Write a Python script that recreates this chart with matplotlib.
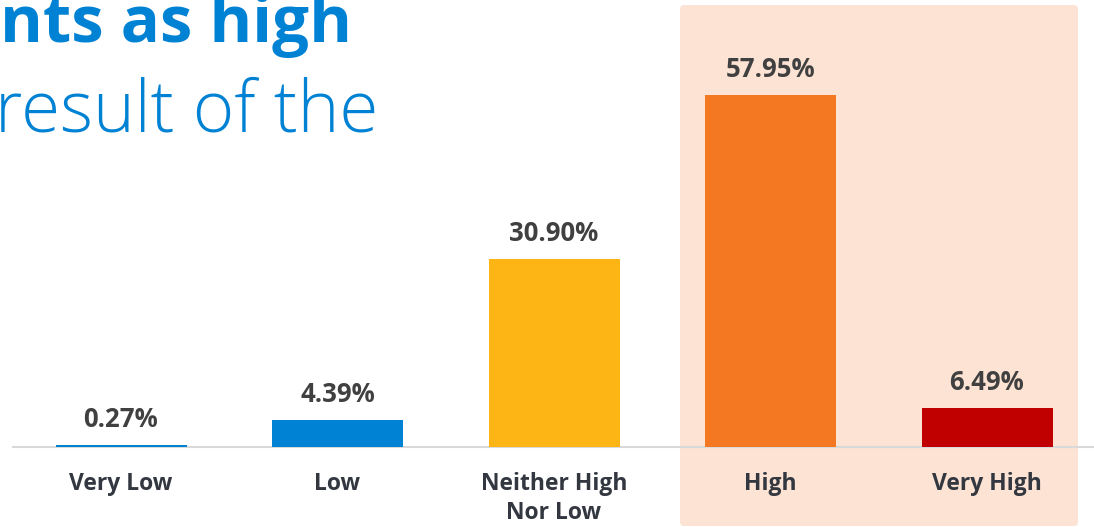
import matplotlib
matplotlib.use("Agg")
import matplotlib.pyplot as plt
from matplotlib.patches import FancyBboxPatch

# survey answers and their shares
categorias = ["Very Low", "Low", "Neither High\nNor Low", "High", "Very High"]
porcentajes = [0.27, 4.39, 30.90, 57.95, 6.49]
colores = ["#0082D4", "#0082D4", "#FDB515", "#F47721", "#C00000"]

W, H = 1094, 527
fig = plt.figure(figsize=(W / 100, H / 100), dpi=100)

# pixel geometry of the plot area
paso = 216.5          # px between bar centres
x0 = 121              # px centre of first bar
base = 447            # px from top of the zero line
escala = 6.075        # px per percentage point

ax = fig.add_axes([0, 0, 1, 1])
ax.set_xlim(-x0 / paso, (W - x0) / paso)
ax.set_ylim(-(H - base) / escala, base / escala)
ax.axis("off")

# highlighted zone behind High / Very High
rx0 = (680 - x0) / paso
rx1 = (1078 - x0) / paso
ry0 = -(526 - base) / escala
ry1 = (base - 5) / escala
zona = FancyBboxPatch((rx0, ry0), rx1 - rx0, ry1 - ry0,
                      boxstyle="round,pad=0,rounding_size=0.02",
                      mutation_aspect=(1 / escala) / (1 / paso),
                      facecolor="#FCE3D3", edgecolor="none", zorder=0)
ax.add_patch(zona)

# zero line
ax.plot([(13 - x0) / paso, (W - x0) / paso], [0, 0], color="#D9D9D9", lw=1.5, zorder=1)

pos = range(len(categorias))
ax.bar(pos, porcentajes, width=131 / paso, color=colores, zorder=2)

fuente = ["Open Sans", "DejaVu Sans"]
for i, v in zip(pos, porcentajes):
    ax.text(i, v + 12 / escala, f"{v:.2f}%", ha="center", va="bottom",
            fontsize=18.5, fontweight="bold", color="#404040", family=fuente)

for i, c in zip(pos, categorias):
    ax.text(i, -25 / escala, c, ha="center", va="top", fontsize=16.5,
            fontweight="bold", color="#333740", family=fuente, linespacing=1.3)

# heading, cut by the left edge
fig.text(352 / W, 1 - 42 / H, "nts as high", ha="right", va="baseline",
         fontsize=47, fontweight="bold", color="#0082D4", family=fuente)
fig.text(378 / W, 1 - 132 / H, "result of the", ha="right", va="baseline",
         fontsize=51, fontweight="light", color="#0082D4", family=fuente)

fig.savefig("out.png", dpi=100)
